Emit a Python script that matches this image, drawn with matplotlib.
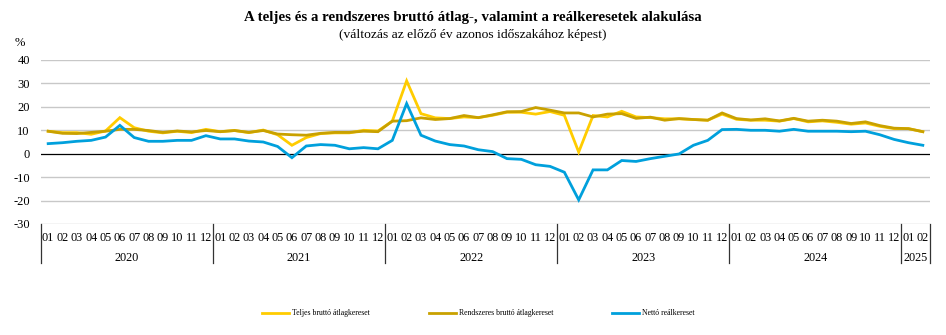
import matplotlib
matplotlib.use("Agg")
import matplotlib.pyplot as plt
from matplotlib.lines import Line2D
import matplotlib.transforms as mtransforms

plt.rcParams['font.family'] = ['Liberation Serif', 'DejaVu Serif']

# Monthly year-on-year changes, %, 2020-01 .. 2025-02
years = ["2020", "2021", "2022", "2023", "2024", "2025"]
months_per_year = [12, 12, 12, 12, 12, 2]
month_labels = ["01", "02", "03", "04", "05", "06", "07", "08", "09", "10", "11", "12"]

teljes = [
    9.6, 9.0, 9.0, 8.3, 9.7, 15.4, 11.1, 9.6, 8.9, 9.6, 9.0, 10.4,
    9.4, 9.9, 9.0, 10.1, 8.1, 3.6, 6.9, 8.6, 8.9, 8.9, 10.0, 9.7,
    13.9, 31.1, 17.1, 15.3, 15.0, 15.7, 15.4, 16.4, 17.7, 17.7, 16.9, 18.0,
    16.4, 0.7, 16.3, 15.7, 18.1, 15.7, 15.4, 14.9, 14.9, 14.6, 14.3, 16.9,
    14.7, 14.3, 14.3, 13.9, 15.0, 13.6, 14.0, 13.4, 12.6, 13.1, 11.7, 10.7,
    10.7, 9.4,
]
rendszeres = [
    9.6, 8.7, 8.6, 9.1, 9.6, 10.4, 10.4, 9.9, 9.1, 9.7, 9.3, 9.9,
    9.4, 9.9, 9.1, 9.9, 8.4, 8.1, 7.9, 8.7, 9.1, 9.1, 9.6, 9.4,
    13.9, 14.1, 15.3, 14.6, 15.0, 16.3, 15.4, 16.6, 17.9, 18.0, 19.7, 18.6,
    17.4, 17.4, 15.7, 16.9, 17.1, 15.1, 15.6, 14.3, 15.0, 14.6, 14.3, 17.4,
    15.0, 14.4, 14.9, 14.0, 15.1, 13.9, 14.3, 13.9, 12.9, 13.6, 12.0, 10.9,
    10.7, 9.4,
]
netto = [
    4.3, 4.7, 5.3, 5.7, 7.1, 12.1, 6.9, 5.3, 5.3, 5.7, 5.7, 7.7,
    6.3, 6.3, 5.4, 5.0, 3.1, -1.7, 3.3, 3.9, 3.6, 2.1, 2.6, 2.1,
    5.7, 21.4, 7.9, 5.4, 3.9, 3.3, 1.7, 0.9, -2.1, -2.4, -4.7, -5.4,
    -7.9, -19.7, -6.9, -6.9, -2.9, -3.3, -2.1, -1.1, -0.1, 3.6, 5.7, 10.3,
    10.4, 10.0, 10.0, 9.6, 10.4, 9.6, 9.6, 9.6, 9.4, 9.6, 8.1, 6.1,
    4.7, 3.6,
]
series_names = ["Teljes bruttó átlagkereset", "Rendszeres bruttó átlagkereset", "Nettó reálkereset"]
series_colors = ["#FFCC00", "#C9A100", "#00A0DC"]
y_ticks = [40, 30, 20, 10, 0, -10, -20, -30]

fig = plt.figure(figsize=(9.46, 3.35), dpi=100)
W, H = 946, 335
ax = fig.add_axes([41 / W, 1 - 224 / H, (930 - 41) / W, (224 - 60) / H])

n = len(teljes)
x = list(range(n))

ax.set_xlim(-0.5, n - 0.5)
ax.set_ylim(-30, 40)
for t in y_ticks:
    if t == 0:
        ax.axhline(t, color="black", lw=0.9, zorder=2)
    else:
        ax.axhline(t, color="#C8C8C8", lw=1.0, zorder=1)
for s in ax.spines.values():
    s.set_visible(False)
ax.set_xticks([])
ax.set_yticks(y_ticks)
ax.set_yticklabels([str(t) for t in y_ticks], fontsize=9)
ax.tick_params(axis="y", length=0, pad=8)

for vals, col in zip([teljes, rendszeres, netto], series_colors):
    ax.plot(x, vals, color=col, lw=2.0, solid_joinstyle="miter", zorder=3)

# Category table below the plot: months and years
trans = mtransforms.blended_transform_factory(ax.transData, ax.transAxes)
sep_bottom = -39 / 164
start = 0
bounds = [-0.5]
for yr, cnt in zip(years, months_per_year):
    for i in range(cnt):
        ax.text(start + i, -14 / 164, month_labels[i], transform=trans,
                ha="center", va="center", fontsize=8.8)
    ax.text(start + (cnt - 1) / 2, -34 / 164, yr, transform=trans,
            ha="center", va="center", fontsize=8.8)
    start += cnt
    bounds.append(start - 0.5)
for b in bounds:
    ax.plot([b, b], [0, sep_bottom], transform=trans, color="#333333",
            lw=0.9, clip_on=False)

# Titles
fig.text(473 / W, 1 - 18 / H,
         "A teljes és a rendszeres bruttó átlag-, valamint a reálkeresetek alakulása",
         ha="center", va="center", fontsize=10.7, fontweight="bold")
fig.text(473 / W, 1 - 35 / H, "(változás az előző év azonos időszakához képest)",
         ha="center", va="center", fontsize=9.7)
fig.text(20 / W, 1 - 43 / H, "%", ha="center", va="center", fontsize=9)

# Legend
leg_starts = [262, 429, 612]
leg_y = 1 - 313 / H
for xs, name, col in zip(leg_starts, series_names, series_colors):
    fig.add_artist(Line2D([xs / W, (xs + 27) / W], [leg_y, leg_y],
                          color=col, lw=2.0, transform=fig.transFigure))
    fig.text((xs + 30) / W, leg_y, name, ha="left", va="center", fontsize=5.6)

fig.savefig("out.png", dpi=100)
